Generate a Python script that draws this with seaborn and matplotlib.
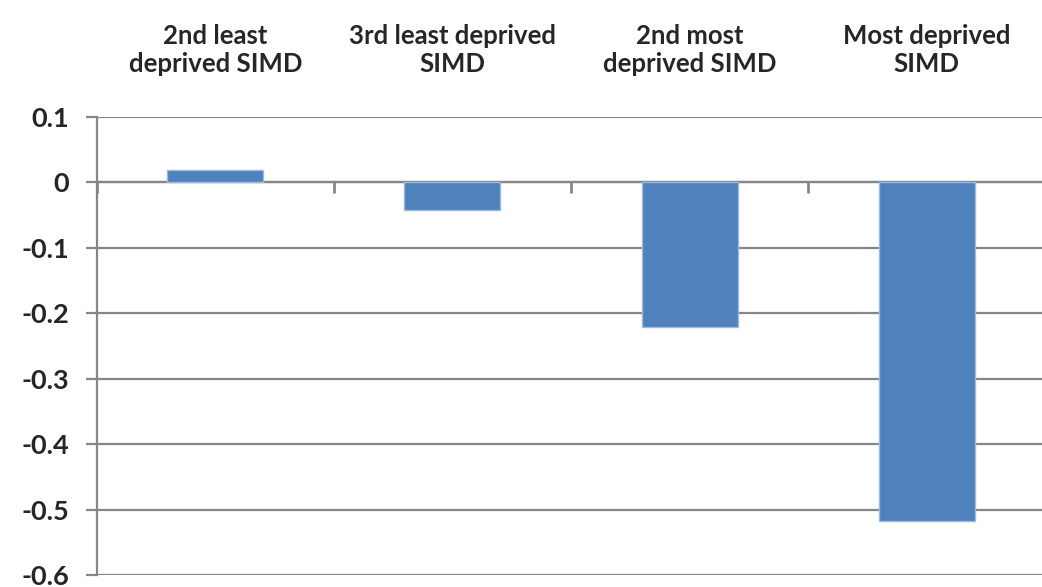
import numpy as np
import pandas as pd
import seaborn as sns
import matplotlib.pyplot as plt
from matplotlib.ticker import FixedLocator

categories = ['2nd least\ndeprived SIMD', '3rd least deprived\nSIMD',
              '2nd most\ndeprived SIMD', 'Most deprived\nSIMD']
values = [0.018, -0.043, -0.221, -0.518]
yticks = [0.1, 0, -0.1, -0.2, -0.3, -0.4, -0.5, -0.6]

sns.set_style('white')
plt.rcParams['font.family'] = ['Lato', 'DejaVu Sans']
plt.rcParams['font.weight'] = 'bold'

df = pd.DataFrame({'cat': categories, 'val': values})

fig = plt.figure(figsize=(10.42, 5.87), dpi=100)
ax = fig.add_axes([0.093, 0.0204, 0.91, 0.781])

sns.barplot(data=df, x='cat', y='val', color='#4F81BD', width=0.405,
            edgecolor='#9DB9DC', linewidth=1, saturation=1, ax=ax, zorder=3)

gray = '#868686'
ax.set_ylim(-0.6, 0.1)
ax.set_xlim(-0.5, len(categories) - 0.5)
ax.set_yticks(yticks)
ax.set_yticklabels([f'{t:g}' for t in yticks])
ax.set_xticks(range(len(categories)))
ax.set_xticklabels(categories)
ax.yaxis.grid(True, color=gray, linewidth=1.6, zorder=0)
ax.set_axisbelow(True)

# labels on top, boundary ticks on the zero line
ax.xaxis.set_minor_locator(FixedLocator(np.arange(len(categories) + 1) - 0.5))
ax.tick_params(axis='x', which='major', bottom=False, top=False,
               labelbottom=False, labeltop=True, pad=26, labelsize=18.5)
ax.tick_params(axis='x', which='minor', bottom=True, top=False, length=8,
               width=2, color=gray, direction='out')
ax.tick_params(axis='y', left=True, length=8, width=1.6, color=gray,
               pad=12, labelsize=19.5)
for t in ax.xaxis.get_major_ticks():
    t.label2.set_linespacing(1.55)

ax.spines['bottom'].set_position(('data', 0))
ax.spines['bottom'].set_color(gray)
ax.spines['bottom'].set_linewidth(1.6)
ax.spines['left'].set_color(gray)
ax.spines['left'].set_linewidth(1.6)
ax.spines['top'].set_visible(False)
ax.spines['right'].set_visible(False)
ax.set_xlabel('')
ax.set_ylabel('')

fig.savefig('out.png', dpi=100)
